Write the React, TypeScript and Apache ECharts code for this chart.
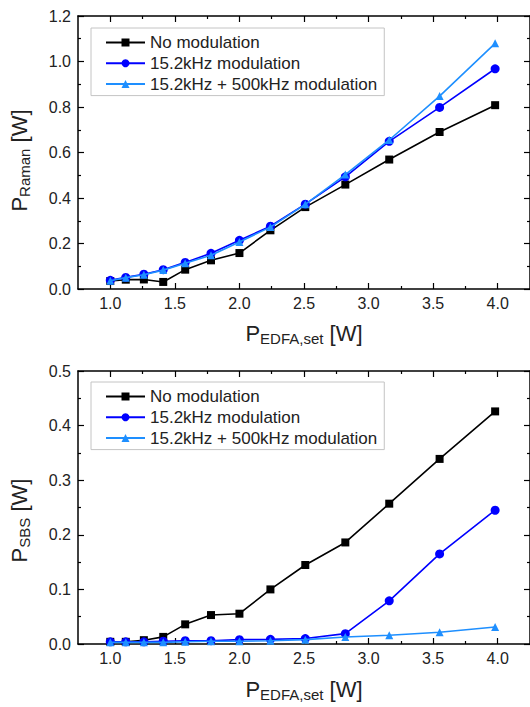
import React, { useEffect, useRef } from 'react';
import * as echarts from 'echarts';

const xValues = [1.0, 1.12, 1.26, 1.41, 1.58, 1.78, 2.0, 2.24, 2.51, 2.82, 3.16, 3.55, 3.98];

const ramanNoMod = [0.035, 0.041, 0.042, 0.031, 0.085, 0.126, 0.158, 0.258, 0.36, 0.459, 0.569, 0.69, 0.808];
const raman152 = [0.038, 0.051, 0.065, 0.085, 0.117, 0.157, 0.214, 0.276, 0.373, 0.493, 0.649, 0.798, 0.968];
const raman152500 = [0.036, 0.05, 0.063, 0.083, 0.113, 0.148, 0.207, 0.272, 0.372, 0.503, 0.655, 0.848, 1.08];

const sbsNoMod = [0.004, 0.004, 0.007, 0.013, 0.036, 0.053, 0.0555, 0.1, 0.1447, 0.186, 0.257, 0.339, 0.426];
const sbs152 = [0.004, 0.004, 0.004, 0.005, 0.006, 0.006, 0.008, 0.0085, 0.01, 0.019, 0.079, 0.165, 0.245];
const sbs152500 = [0.003, 0.003, 0.003, 0.003, 0.004, 0.005, 0.005, 0.006, 0.008, 0.0128, 0.016, 0.0214, 0.031];

const seriesNames = ['No modulation', '15.2kHz modulation', '15.2kHz + 500kHz modulation'];
const xMajorTicks = [1.0, 1.5, 2.0, 2.5, 3.0, 3.5, 4.0];
const xMinorTicks = [1.25, 1.75, 2.25, 2.75, 3.25, 3.75];

const FONT = '"Liberation Sans", Arial, Helvetica, sans-serif';
const TXT = '#222';
const colors = ['#000000', '#0000FF', '#1E8FFF'];
const symbols = ['rect', 'circle', 'triangle'];
const symbolSizes = [8, 9, 8];

export default function App() {
  const ref = useRef<HTMLDivElement>(null);
  useEffect(() => {
    if (!ref.current) return;
    const chart = echarts.init(ref.current, null, { renderer: 'svg' });

    const X_MIN = 0.75;
    const X_MAX = 4.25;
    const grids = [
      { left: 78, top: 16, width: 456, height: 273 },
      { left: 78, top: 371, width: 456, height: 273 },
    ];

    const richName = {
      p: { fontSize: 22, fontFamily: FONT, color: TXT },
      s: { fontSize: 15, fontFamily: FONT, color: TXT, padding: [11, 0, 0, 0] },
    };

    const xAxes: any[] = [];
    const yAxes: any[] = [];
    const yCfg = [
      { max: 1.2, interval: 0.2, name: '{p|P}{s|Raman}{p| [W]}', pad: [0, 16, 0, 0] },
      { max: 0.5, interval: 0.1, name: '{p|P}{s|SBS}{p| [W]}', pad: [0, 26, 0, 0] },
    ];
    grids.forEach((_, g) => {
      const base = {
        type: 'value',
        gridIndex: g,
        min: X_MIN,
        max: X_MAX,
        interval: 0.25,
        splitLine: { show: false },
      };
      // bottom major with labels
      xAxes.push({
        ...base,
        position: 'bottom',
        axisLine: { show: true, lineStyle: { color: '#000', width: 1.5 } },
        axisTick: { show: true, inside: true, length: 6, customValues: xMajorTicks, lineStyle: { color: '#000', width: 1.2 } },
        axisLabel: {
          show: true,
          customValues: xMajorTicks,
          margin: 6,
          fontSize: 16,
          fontFamily: FONT,
          color: TXT,
          formatter: (v: number) => v.toFixed(1),
        },
        name: '{p|P}{s|EDFA,set}{p| [W]}',
        nameLocation: 'middle',
        nameGap: g === 0 ? 31 : 32,
        nameTextStyle: { rich: richName },
      });
      // bottom minor
      xAxes.push({
        ...base,
        position: 'bottom',
        axisLine: { show: false },
        axisTick: { show: true, inside: true, length: 3, customValues: xMinorTicks, lineStyle: { color: '#000', width: 1.2 } },
        axisLabel: { show: false },
      });
      // top major
      xAxes.push({
        ...base,
        position: 'top',
        axisLine: { show: true, lineStyle: { color: '#000', width: 1.5 } },
        axisTick: { show: true, inside: true, length: 6, customValues: xMajorTicks, lineStyle: { color: '#000', width: 1.2 } },
        axisLabel: { show: false },
      });
      // top minor
      xAxes.push({
        ...base,
        position: 'top',
        axisLine: { show: false },
        axisTick: { show: true, inside: true, length: 3, customValues: xMinorTicks, lineStyle: { color: '#000', width: 1.2 } },
        axisLabel: { show: false },
      });

      const yc = yCfg[g];
      const ybase = {
        type: 'value',
        gridIndex: g,
        min: 0,
        max: yc.max,
        interval: yc.interval,
        splitLine: { show: false },
        axisLine: { show: true, onZero: false, lineStyle: { color: '#000', width: 1.5 } },
        axisTick: { show: true, inside: true, length: 6, lineStyle: { color: '#000', width: 1.2 } },
        minorTick: { show: true, splitNumber: 2, length: 3, lineStyle: { color: '#000', width: 1.2 } },
        minorSplitLine: { show: false },
      };
      yAxes.push({
        ...ybase,
        position: 'left',
        axisLabel: {
          show: true,
          margin: 7,
          fontSize: 16,
          fontFamily: FONT,
          color: TXT,
          formatter: (v: number) => v.toFixed(1),
        },
        name: yc.name,
        nameLocation: 'middle',
        nameGap: 46,
        nameRotate: 90,
        nameTextStyle: { rich: richName, padding: yc.pad },
      });
      yAxes.push({
        ...ybase,
        position: 'right',
        axisLabel: { show: false },
      });
    });

    const panelData = [
      [ramanNoMod, raman152, raman152500],
      [sbsNoMod, sbs152, sbs152500],
    ];
    const series: any[] = [];
    panelData.forEach((arrs, g) => {
      arrs.forEach((arr, k) => {
        series.push({
          type: 'line',
          name: seriesNames[k],
          xAxisIndex: g * 4,
          yAxisIndex: g * 2,
          data: xValues.map((x, i) => [x, arr[i]]),
          symbol: symbols[k],
          symbolSize: symbolSizes[k],
          showSymbol: true,
          color: colors[k],
          itemStyle: { color: colors[k] },
          lineStyle: { color: colors[k], width: 1.6 },
          z: 3 + k,
        });
      });
    });

    const legendBase = {
      orient: 'vertical',
      left: 91,
      data: seriesNames,
      itemWidth: 39,
      itemHeight: 10,
      itemGap: 3.8,
      padding: [6, 7, 3, 14],
      borderColor: '#c4c4c4',
      borderWidth: 1,
      backgroundColor: '#fff',
      textStyle: { fontSize: 17, fontFamily: FONT, color: TXT, lineHeight: 17 },
      selectedMode: false,
    };

    chart.setOption({
      animation: false,
      backgroundColor: '#fff',
      grid: grids,
      xAxis: xAxes,
      yAxis: yAxes,
      legend: [
        { ...legendBase, top: 28 },
        { ...legendBase, top: 382 },
      ],
      series,
    });
    return () => chart.dispose();
  }, []);

  return (
    <div
      ref={ref}
      style={{ position: 'absolute', left: 0, top: 0, width: 530, height: 707 }}
    />
  );
}
